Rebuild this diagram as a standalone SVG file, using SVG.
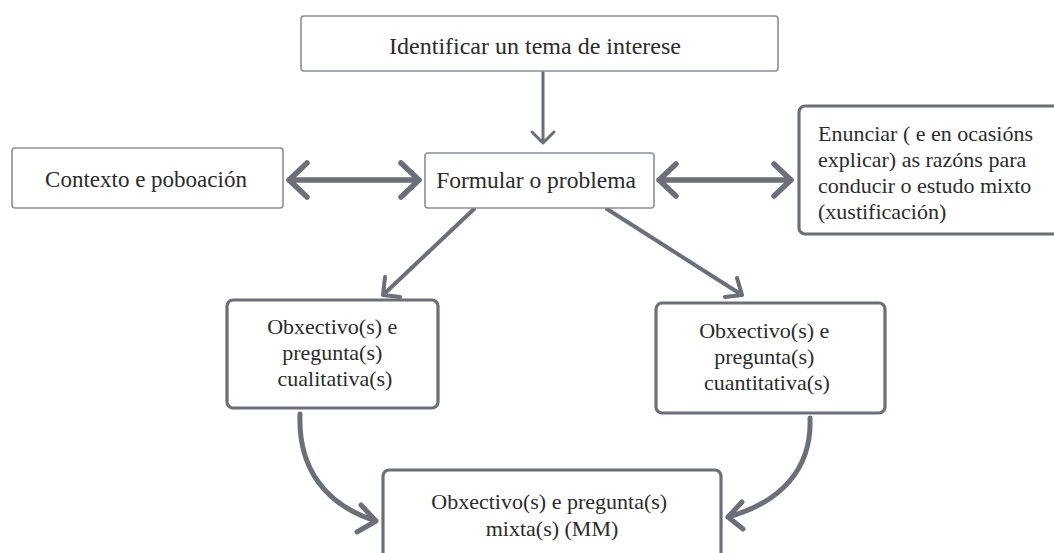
<svg xmlns="http://www.w3.org/2000/svg" width="1054" height="553" viewBox="0 0 1054 553">
  <defs>
    <style>
      .thin { fill: #ffffff; stroke: #8b8e94; stroke-width: 1.6; }
      .thick { fill: #ffffff; stroke: #6c6f77; stroke-width: 3.2; }
      .lbl { fill: #2b2b2b; }
      .wire { fill: none; stroke: #6c6f77; stroke-linecap: round; stroke-linejoin: round; }
    </style>
  </defs>
  <rect width="1054" height="553" fill="#ffffff"/>

  <g id="connectors">
    <!-- tema -> problema -->
    <path class="wire" stroke-width="3" d="M543,72 V142 M532,132 L543,143 L554,132"/>
    <!-- contexto <-> problema -->
    <path class="wire" stroke-width="5.5" d="M289,180 H419 M307,163 L289,180 L307,197 M401,163 L419,180 L401,197"/>
    <!-- problema <-> xustificación -->
    <path class="wire" stroke-width="5.5" d="M659,180 H791 M676,164 L659,180 L676,196 M774,164 L791,180 L774,196"/>
    <!-- problema -> cualitativa -->
    <path class="wire" stroke-width="4" d="M474,209 L383,295 M385,277 L383,295 L400,297"/>
    <!-- problema -> cuantitativa -->
    <path class="wire" stroke-width="4" d="M607,209 L742,295 M737,278 L742,295 L725,297"/>
    <!-- cualitativa -> MM -->
    <path class="wire" stroke-width="5" d="M300,414 C298,468 325,505 376,521 M361,505 L376,521 L357,532"/>
    <!-- cuantitativa -> MM -->
    <path class="wire" stroke-width="5" d="M810,418 C812,468 782,502 728,517 M742,502 L728,517 L743,529"/>
  </g>

  <g font-family="'Liberation Serif', 'DejaVu Serif', serif">
    <g id="tema">
      <rect class="thin" x="301" y="16" width="477" height="55" rx="3"/>
      <text class="lbl" x="535" y="54" font-size="24" text-anchor="middle">Identificar un tema de interese</text>
    </g>

    <g id="contexto">
      <rect class="thin" x="12" y="148" width="271" height="60" rx="3"/>
      <text class="lbl" x="146" y="187" font-size="23" text-anchor="middle">Contexto e poboación</text>
    </g>

    <g id="problema">
      <rect class="thin" x="425" y="153" width="229" height="55" rx="3"/>
      <text class="lbl" x="536" y="188" font-size="23.5" text-anchor="middle">Formular o problema</text>
    </g>

    <g id="xustificacion">
      <rect class="thick" x="799" y="106" width="270" height="128" rx="6"/>
      <text class="lbl" font-size="22">
        <tspan x="818" y="141">Enunciar ( e en ocasións</tspan>
        <tspan x="818" y="167">explicar) as razóns para</tspan>
        <tspan x="818" y="193">conducir o estudo mixto</tspan>
        <tspan x="818" y="219">(xustificación)</tspan>
      </text>
    </g>

    <g id="cualitativa">
      <rect class="thick" x="227" y="300" width="211" height="108" rx="6"/>
      <text class="lbl" font-size="22" text-anchor="middle">
        <tspan x="335" y="334">Obxectivo(s) e</tspan>
        <tspan x="335" y="360">pregunta(s)</tspan>
        <tspan x="335" y="386">cualitativa(s)</tspan>
      </text>
    </g>

    <g id="cuantitativa">
      <rect class="thick" x="656" y="303" width="229" height="110" rx="6"/>
      <text class="lbl" font-size="22" text-anchor="middle">
        <tspan x="767" y="338">Obxectivo(s) e</tspan>
        <tspan x="767" y="364">pregunta(s)</tspan>
        <tspan x="767" y="390">cuantitativa(s)</tspan>
      </text>
    </g>

    <g id="mixta">
      <rect class="thick" x="383" y="470" width="338" height="100" rx="6"/>
      <text class="lbl" font-size="22" text-anchor="middle">
        <tspan x="552" y="509">Obxectivo(s) e pregunta(s)</tspan>
        <tspan x="552" y="536">mixta(s) (MM)</tspan>
      </text>
    </g>
  </g>
</svg>
